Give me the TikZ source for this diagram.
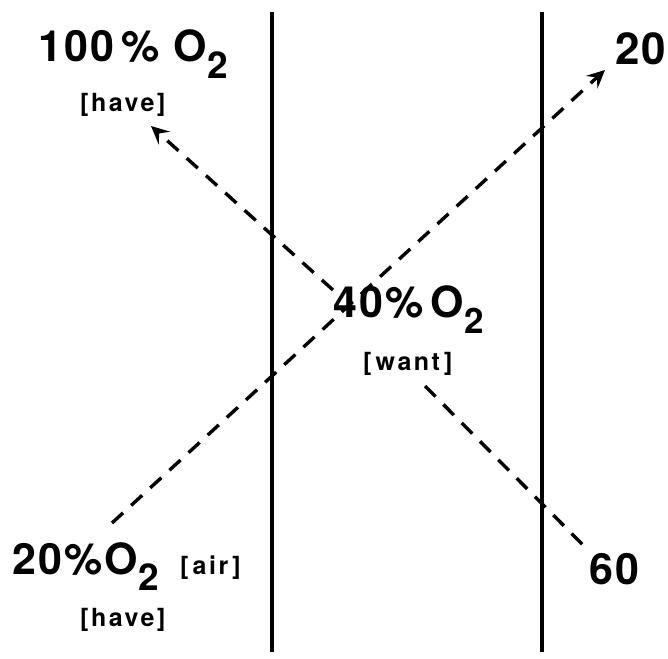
\documentclass[tikz,border=0pt]{standalone}
\usepackage{fontspec}
\setmainfont{TeX Gyre Heros}
\newfontfamily\spaced[LetterSpace=10]{TeX Gyre Heros}
\newfontfamily\wide[LetterSpace=5]{TeX Gyre Heros}
\usetikzlibrary{arrows.meta}
\newcommand{\subtwo}[1]{\raisebox{-0.38em}{\fontsize{#1}{#1}\selectfont\bfseries 2}}
\tikzset{
  big/.style={anchor=base west, inner sep=0pt, font=\fontsize{43}{43}\selectfont\bfseries\wide},
  small/.style={anchor=base west, inner sep=0pt, font=\fontsize{25}{25}\selectfont\bfseries\spaced},
  wall/.style={line width=4pt},
  dash line/.style={line width=3.4pt, dash pattern=on 15pt off 11pt},
  tip/.style={-{Stealth[length=18pt,width=17pt,inset=7pt]}}
}
\begin{document}
\begin{tikzpicture}[x=1pt,y=-1pt]
\useasboundingbox (0,0) rectangle (668,658);
% walls
\coordinate (w1t) at (272,12); \coordinate (w1b) at (272,652);
\coordinate (w2t) at (542,12); \coordinate (w2b) at (542,652);
\draw[wall] (w1t) -- (w1b);
\draw[wall] (w2t) -- (w2b);
% labels
\node[big] (hundred) at (38,62) {100\,\%\,\,O\subtwo{37}};
\node[small] (have1) at (80,111) {[have]};
\node[big, font=\fontsize{44}{44}\selectfont\bfseries\wide] (twenty) at (615,65) {20};
\node[big, font=\fontsize{43}{43}\selectfont\bfseries\wide] (forty) at (333,317) {40\%\,O\subtwo{35}};
\node[small] (want) at (363,370) {[\,want\,]};
\node[big] (air) at (12,574) {20\%O\subtwo{37}\,\,\,{\fontsize{25}{25}\selectfont\spaced\bfseries[\,air\,]}};
\node[small] (have2) at (80,626) {[have]};
\node[big] (sixty) at (589,584) {60};
% dashed connectors
\coordinate (a1) at (112,523);
\coordinate (a2) at (605,70);
\coordinate (b1) at (333,290);
\coordinate (b2) at (151,126);
\coordinate (c1) at (425,386);
\coordinate (c2) at (584,546);
\draw[dash line, tip] (a1) -- (a2);
\draw[dash line, tip] (b1) -- (b2);
\draw[dash line] (c1) -- (c2);
\end{tikzpicture}
\end{document}
